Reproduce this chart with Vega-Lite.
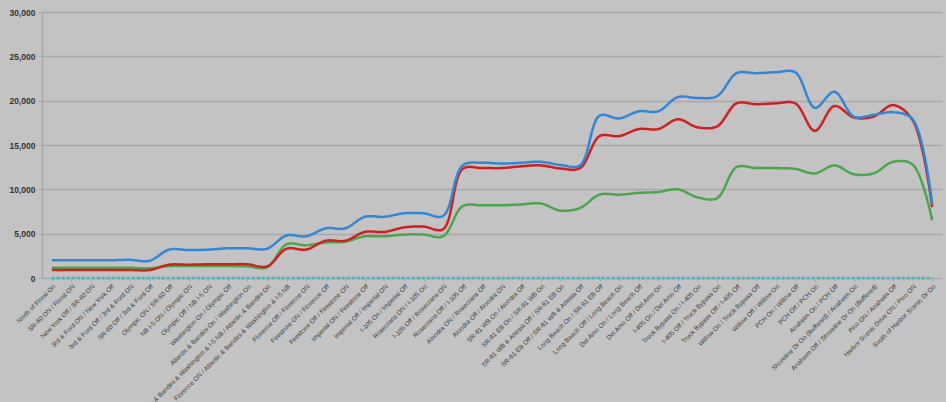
{
  "$schema": "https://vega.github.io/schema/vega-lite/v6.json",
  "width": 900,
  "height": 266,
  "autosize": {"type": "none"},
  "padding": {"left": 42, "top": 12, "right": 4, "bottom": 124},
  "background": "#c3c3c3",
  "config": {
    "view": {"stroke": null},
    "axis": {"labelFont": "Liberation Sans", "labelColor": "#333333"}
  },
  "data": {
    "values": [
      {"segment": "North of Floral On", "blue": 2000, "red": 900, "green": 1150, "zero": 0},
      {"segment": "SR-60 ON / Floral ON", "blue": 2000, "red": 900, "green": 1150, "zero": 0},
      {"segment": "New York Off / SR-60 ON", "blue": 2000, "red": 900, "green": 1150, "zero": 0},
      {"segment": "3rd & Ford ON / New York Off", "blue": 2000, "red": 900, "green": 1150, "zero": 0},
      {"segment": "3rd & Ford Off / 3rd & Ford ON", "blue": 2050, "red": 900, "green": 1150, "zero": 0},
      {"segment": "SR-60 Off / 3rd & Ford Off", "blue": 1950, "red": 900, "green": 1100, "zero": 0},
      {"segment": "Olympic ON / SR-60 Off", "blue": 3200, "red": 1500, "green": 1350, "zero": 0},
      {"segment": "NB I-5 ON / Olympic ON", "blue": 3150, "red": 1500, "green": 1350, "zero": 0},
      {"segment": "Olympic Off / NB I-5 ON", "blue": 3200, "red": 1550, "green": 1350, "zero": 0},
      {"segment": "Washington On / Olympic Off", "blue": 3350, "red": 1550, "green": 1350, "zero": 0},
      {"segment": "Atlantic & Bandini On / Washington On", "blue": 3350, "red": 1550, "green": 1300, "zero": 0},
      {"segment": "Atlantic & Bandini & Washington & I-5 NB / Atlantic & Bandini On", "blue": 3300, "red": 1300, "green": 1200, "zero": 0},
      {"segment": "Florence ON / Atlantic & Bandini & Washington & I-5 NB", "blue": 4800, "red": 3300, "green": 3800, "zero": 0},
      {"segment": "Florence Off / Florence ON", "blue": 4700, "red": 3200, "green": 3700, "zero": 0},
      {"segment": "Firestone ON / Florence Off", "blue": 5600, "red": 4200, "green": 4000, "zero": 0},
      {"segment": "Firestone Off / Firestone ON", "blue": 5600, "red": 4200, "green": 4100, "zero": 0},
      {"segment": "Imperial ON / Firestone Off", "blue": 6900, "red": 5200, "green": 4700, "zero": 0},
      {"segment": "Imperial Off / Imperial ON", "blue": 6900, "red": 5200, "green": 4700, "zero": 0},
      {"segment": "I-105 On / Imperial Off", "blue": 7300, "red": 5700, "green": 4900, "zero": 0},
      {"segment": "Rosecrans ON / I-105 On", "blue": 7300, "red": 5800, "green": 4900, "zero": 0},
      {"segment": "I-105 Off / Rosecrans ON", "blue": 7000, "red": 5500, "green": 4700, "zero": 0},
      {"segment": "Rosecrans Off / I-105 Off", "blue": 12700, "red": 12300, "green": 8100, "zero": 0},
      {"segment": "Alondra ON / Rosecrans Off", "blue": 13000, "red": 12400, "green": 8200, "zero": 0},
      {"segment": "Alondra Off / Alondra ON", "blue": 12900, "red": 12400, "green": 8200, "zero": 0},
      {"segment": "SR-91 WB On / Alondra Off", "blue": 13000, "red": 12600, "green": 8300, "zero": 0},
      {"segment": "SR-91 EB On / SR-91 WB On", "blue": 13100, "red": 12700, "green": 8400, "zero": 0},
      {"segment": "SR-91 WB & Artesia Off / SR-91 EB On", "blue": 12750, "red": 12350, "green": 7600, "zero": 0},
      {"segment": "SR-91 EB Off / SR-91 WB & Artesia Off", "blue": 12700, "red": 12400, "green": 7900, "zero": 0},
      {"segment": "Long Beach On / SR-91 EB Off", "blue": 18300, "red": 16000, "green": 9400, "zero": 0},
      {"segment": "Long Beach Off / Long Beach On", "blue": 18000, "red": 16000, "green": 9400, "zero": 0},
      {"segment": "Del Amo On / Long Beach Off", "blue": 18800, "red": 16800, "green": 9600, "zero": 0},
      {"segment": "Del Amo Off / Del Amo On", "blue": 18800, "red": 16800, "green": 9700, "zero": 0},
      {"segment": "I-405 On / Del Amo Off", "blue": 20400, "red": 17900, "green": 10000, "zero": 0},
      {"segment": "Truck Bypass On / I-405 On", "blue": 20300, "red": 17000, "green": 9100, "zero": 0},
      {"segment": "I-405 Off / Truck Bypass On", "blue": 20500, "red": 17100, "green": 9000, "zero": 0},
      {"segment": "Truck Bypass Off / I-405 Off", "blue": 23100, "red": 19700, "green": 12500, "zero": 0},
      {"segment": "Willow On / Truck Bypass Off", "blue": 23100, "red": 19600, "green": 12400, "zero": 0},
      {"segment": "Willow Off / Willow On", "blue": 23200, "red": 19700, "green": 12400, "zero": 0},
      {"segment": "PCH On / Willow Off", "blue": 23200, "red": 19700, "green": 12300, "zero": 0},
      {"segment": "PCH Off / PCH On", "blue": 19200, "red": 16600, "green": 11800, "zero": 0},
      {"segment": "Anaheim On / PCH Off", "blue": 21000, "red": 19400, "green": 12700, "zero": 0},
      {"segment": "Shoreline Dr On (Buffered) / Anaheim On", "blue": 18200, "red": 18100, "green": 11700, "zero": 0},
      {"segment": "Anaheim Off / Shoreline Dr On (Buffered)", "blue": 18400, "red": 18200, "green": 11800, "zero": 0},
      {"segment": "Pico ON / Anaheim Off", "blue": 18700, "red": 19500, "green": 13100, "zero": 0},
      {"segment": "Harbor Scenic Drive ON / Pico ON", "blue": 17900, "red": 17800, "green": 12800, "zero": 0},
      {"segment": "South of Harbor Scenic Dr On", "blue": 8300, "red": 8000, "green": 6500, "zero": 0}
    ]
  },
  "transform": [
    {"fold": ["zero", "green", "red", "blue"], "as": ["series", "volume"]}
  ],
  "mark": {"type": "line", "interpolate": "catmull-rom", "strokeWidth": 2.5},
  "encoding": {
    "x": {
      "field": "segment",
      "type": "nominal",
      "sort": null,
      "scale": {"type": "point", "padding": 0.5},
      "axis": {
        "title": null,
        "labelAngle": -45,
        "labelFontSize": 6.5,
        "labelColor": "#3a3a3a",
        "labelPadding": 2,
        "labelOverlap": false,
        "labelLimit": 400,
        "domain": false,
        "ticks": true,
        "tickSize": 3,
        "tickColor": "#7fb8c8",
        "grid": false
      }
    },
    "y": {
      "field": "volume",
      "type": "quantitative",
      "scale": {"domain": [0, 30000], "nice": false},
      "axis": {
        "title": null,
        "values": [0, 5000, 10000, 15000, 20000, 25000, 30000],
        "format": ",d",
        "labelFontSize": 8.5,
        "labelFontWeight": "bold",
        "labelColor": "#333333",
        "labelPadding": 3,
        "domain": true,
        "domainColor": "#a8a8a8",
        "domainWidth": 1.5,
        "ticks": true,
        "tickSize": 4,
        "tickColor": "#a8a8a8",
        "grid": true,
        "gridColor": "#a8a8a8",
        "gridWidth": 1.5
      }
    },
    "color": {
      "field": "series",
      "type": "nominal",
      "scale": {"domain": ["blue", "red", "green", "zero"], "range": ["#2f87d6", "#d01f1f", "#4aa64a", "#46b4c8"]},
      "legend": null
    },
    "strokeDash": {
      "field": "series",
      "type": "nominal",
      "scale": {"domain": ["blue", "red", "green", "zero"], "range": [[1, 0], [1, 0], [1, 0], [3, 2]]},
      "legend": null
    },
    "strokeWidth": {
      "field": "series",
      "type": "nominal",
      "scale": {"domain": ["blue", "red", "green", "zero"], "range": [2.5, 2.5, 2.2, 1.5]},
      "legend": null
    }
  }
}
